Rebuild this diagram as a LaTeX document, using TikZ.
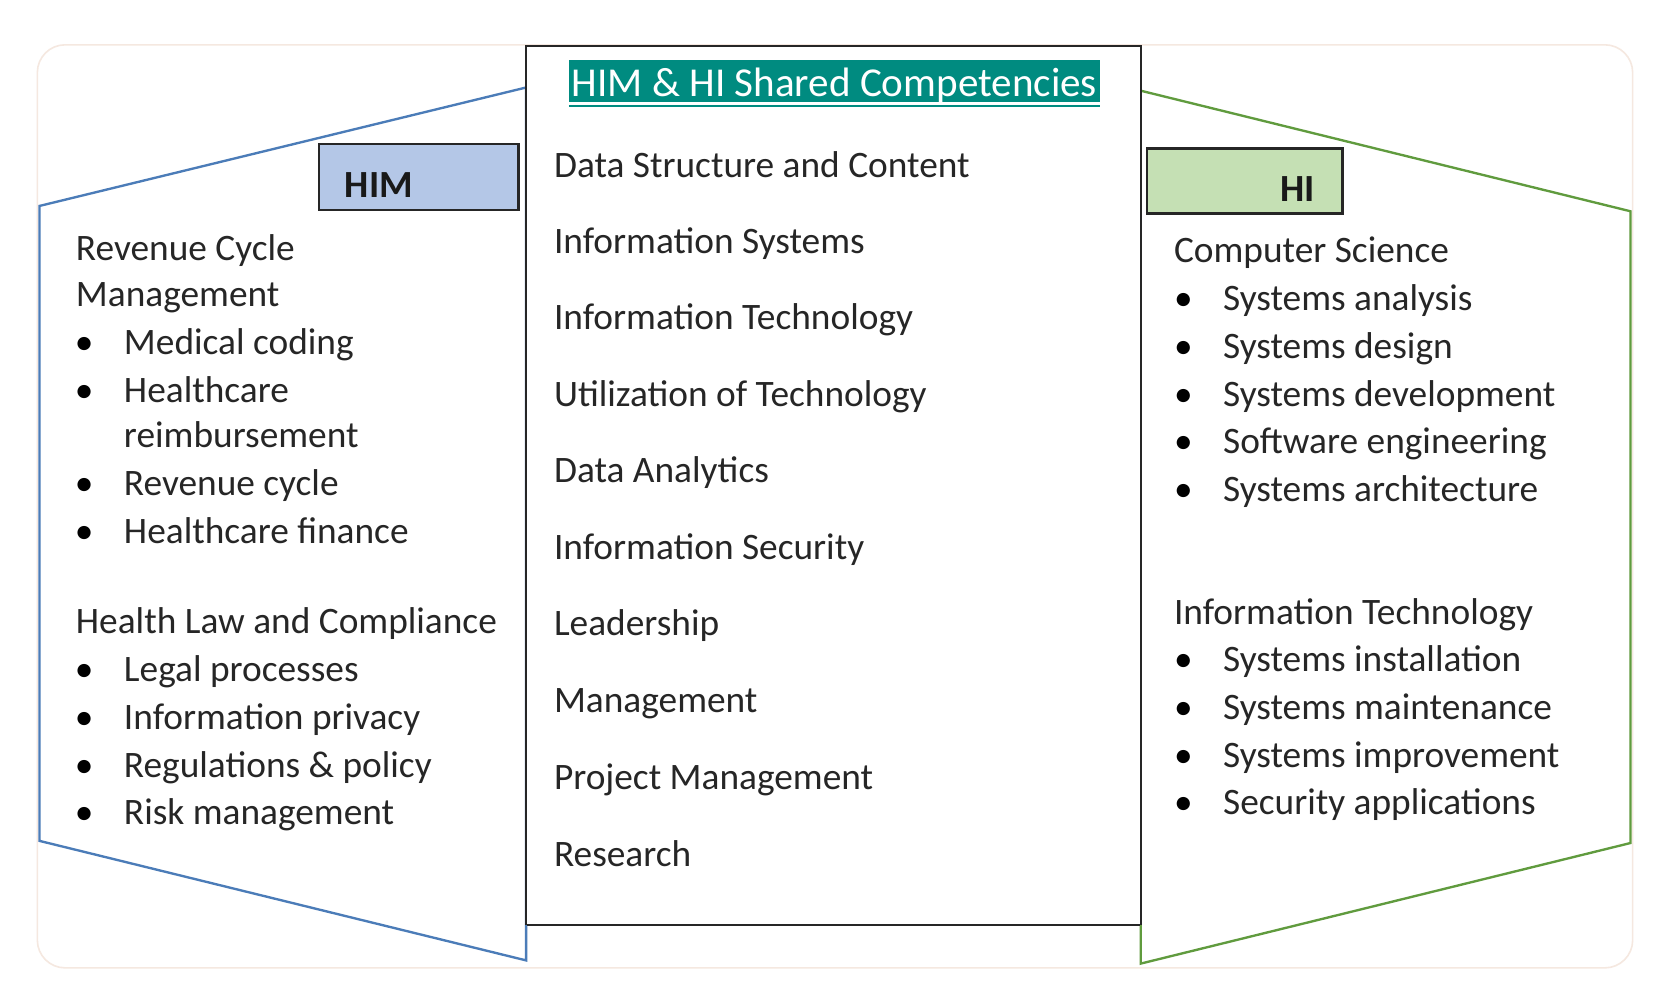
\documentclass[tikz,border=0pt]{standalone}
\usepackage{fontspec}
\setmainfont{Carlito}
\begin{document}
\begin{tikzpicture}[x=1pt,y=-1pt,
  txt/.style={anchor=base west,inner sep=0pt,font=\fontsize{35}{42}\selectfont,text=black!85},
  bul/.style={anchor=base west,inner sep=0pt,font=\fontsize{35}{42}\selectfont,text=black},
  lab/.style={anchor=base west,inner sep=0pt,font=\fontsize{36}{42}\selectfont\bfseries,text=black!90}]
\definecolor{cardline}{RGB}{245,232,224}
\definecolor{himblue}{RGB}{75,124,184}
\definecolor{higreen}{RGB}{96,155,62}
\definecolor{himfill}{RGB}{180,199,231}
\definecolor{hifill}{RGB}{197,224,180}
\definecolor{teal}{RGB}{0,139,128}
\useasboundingbox (0,0) rectangle (1565,939);
\fill[white] (0,0) rectangle (1565,939);
% card
\draw[cardline,line width=1.5pt,rounded corners=26pt,fill=white] (35,42) rectangle (1530,907);
% left polygon
\draw[himblue,line width=2.2pt,line join=miter] (493,82) -- (37,193) -- (37,788) -- (493,900) -- cycle;
% right polygon
\draw[higreen,line width=2.2pt,line join=miter] (1069,85) -- (1528,198) -- (1528,790) -- (1069,903) -- cycle;
% center box
\draw[black!85,line width=2.2pt,fill=white] (493,43) rectangle (1069,867);
\draw[himblue,line width=2.2pt] (493,867) -- (493,900);
\draw[higreen,line width=2.2pt] (1069,867) -- (1069,903);
% HIM / HI boxes
\draw[black!85,line width=2.4pt,fill=himfill] (299,135) rectangle (486,197);
\node[lab] (him) at (323,185) {HIM};
\draw[black!85,line width=2.4pt,fill=hifill] (1075,139) rectangle (1258,200);
\node[lab] (hi) at (1200,189) {HI};
% title
\fill[teal] (533,56) rectangle (1031,96);
\draw[teal,line width=2pt] (533,99.5) -- (1031,99.5);
\node[anchor=base,inner sep=0pt,text=white,font=\fontsize{38.5}{44}\selectfont] (title) at (782,90) {HIM \& HI Shared Competencies};
% center list
\node[txt] (c1) at (519,166) {Data Structure and Content};
\node[txt] (c2) at (519,238) {Information Systems};
\node[txt] (c3) at (519,309) {Information Technology};
\node[txt] (c4) at (519,381) {Utilization of Technology};
\node[txt] (c5) at (519,452) {Data Analytics};
\node[txt] (c6) at (519,524) {Information Security};
\node[txt] (c7) at (519,596) {Leadership};
\node[txt] (c8) at (519,668) {Management};
\node[txt] (c9) at (519,740) {Project Management};
\node[txt] (c10) at (519,812) {Research};
% left list
\node[txt] (l1) at (71,244) {Revenue Cycle};
\node[txt] (l2) at (71,287) {Management};
\foreach \y/\t [count=\i] in {332/Medical coding,377/Healthcare,419/reimbursement,464/Revenue cycle,509/Healthcare finance}{
  \node[txt] (lb\i) at (116,\y) {\t};
}
\foreach \y [count=\i] in {332,377,464,509}{\node[bul] (lbd\i) at (70,\y) {•};}
\node[txt] (l3) at (71,594) {Health Law and Compliance};
\foreach \y/\t [count=\i] in {639/Legal processes,684/Information privacy,729/Regulations \& policy,773/Risk management}{
  \node[txt] (lc\i) at (116,\y) {\t};
  \node[bul] (lcd\i) at (70,\y) {•};
}
% right list
\node[txt] (r1) at (1100,246) {Computer Science};
\foreach \y/\t [count=\i] in {291/Systems analysis,336/Systems design,381/Systems development,425/Software engineering,470/Systems architecture}{
  \node[txt] (rb\i) at (1146,\y) {\t};
  \node[bul] (rbd\i) at (1100,\y) {•};
}
\node[txt] (r2) at (1100,585) {Information Technology};
\foreach \y/\t [count=\i] in {629/Systems installation,674/Systems maintenance,719/Systems improvement,763/Security applications}{
  \node[txt] (rc\i) at (1146,\y) {\t};
  \node[bul] (rcd\i) at (1100,\y) {•};
}
\end{tikzpicture}
\end{document}
